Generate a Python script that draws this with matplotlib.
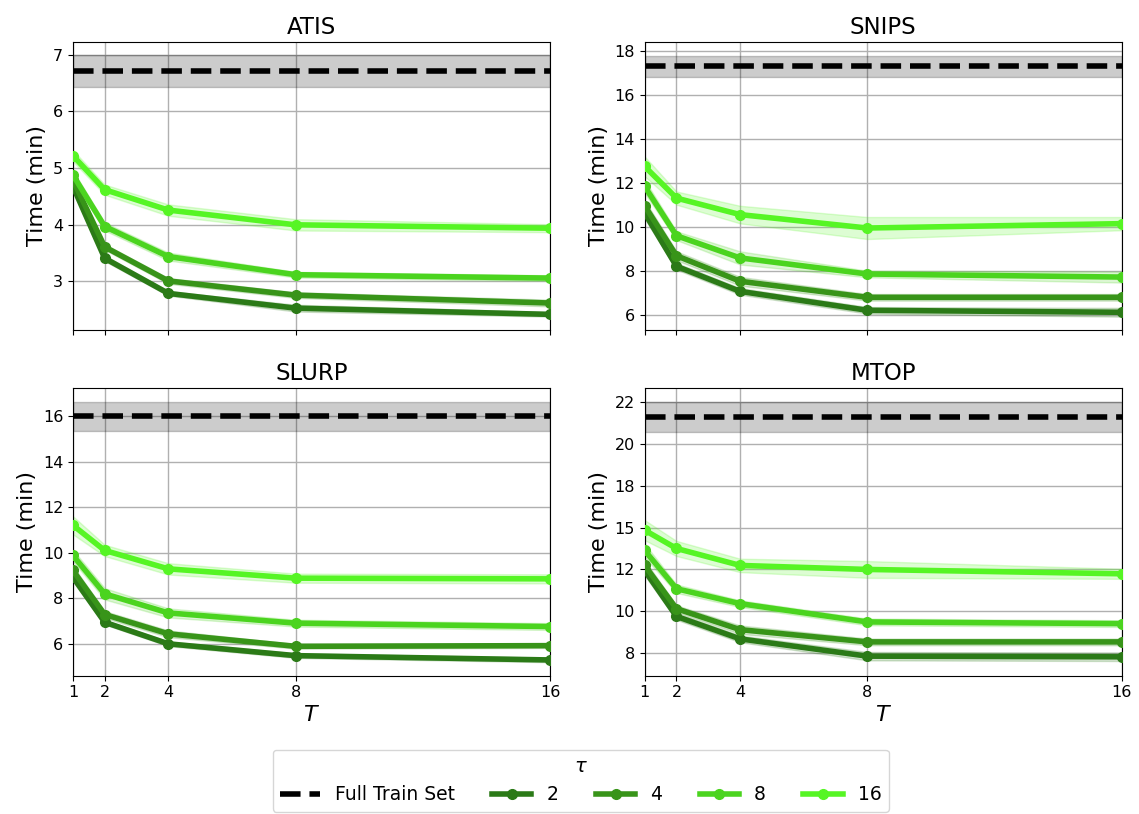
import matplotlib
matplotlib.use("Agg")
import matplotlib.pyplot as plt
import matplotlib.ticker as mticker
import numpy as np

T_values = [1, 2, 4, 8, 16]
taus = [2, 4, 8, 16]
datasets = ["ATIS", "SNIPS", "SLURP", "MTOP"]

# Full train set: mean and std (min)
full_mean = {"ATIS": 6.71, "SNIPS": 17.32, "SLURP": 16.0, "MTOP": 21.6}
full_std = {"ATIS": 0.28, "SNIPS": 0.47, "SLURP": 0.65, "MTOP": 0.9}

# mean time per tau (rows) over T (columns)
atis_mean = [
    [4.68, 3.41, 2.79, 2.53, 2.42],
    [4.79, 3.61, 3.01, 2.76, 2.62],
    [4.88, 3.97, 3.44, 3.12, 3.06],
    [5.22, 4.62, 4.26, 4.00, 3.94],
]
snips_mean = [
    [10.65, 8.23, 7.09, 6.23, 6.14],
    [10.98, 8.71, 7.55, 6.82, 6.82],
    [11.86, 9.62, 8.61, 7.88, 7.74],
    [12.77, 11.33, 10.58, 9.97, 10.17],
]
slurp_mean = [
    [8.93, 6.94, 5.99, 5.47, 5.28],
    [9.22, 7.28, 6.43, 5.88, 5.91],
    [9.88, 8.19, 7.35, 6.90, 6.75],
    [11.21, 10.10, 9.29, 8.88, 8.85],
]
mtop_mean = [
    [12.44, 9.70, 8.36, 7.33, 7.29],
    [12.74, 10.16, 8.91, 8.18, 8.18],
    [13.63, 11.35, 10.46, 9.37, 9.27],
    [14.84, 13.75, 12.74, 12.50, 12.24],
]

atis_std = [
    [0.06, 0.05, 0.04, 0.06, 0.04],
    [0.06, 0.05, 0.05, 0.05, 0.06],
    [0.08, 0.07, 0.07, 0.05, 0.05],
    [0.10, 0.09, 0.10, 0.10, 0.07],
]
snips_std = [
    [0.25, 0.15, 0.15, 0.15, 0.20],
    [0.25, 0.20, 0.20, 0.15, 0.15],
    [0.30, 0.20, 0.30, 0.15, 0.25],
    [0.45, 0.30, 0.40, 0.50, 0.30],
]
slurp_std = [
    [0.20, 0.10, 0.10, 0.10, 0.10],
    [0.20, 0.15, 0.15, 0.10, 0.10],
    [0.25, 0.25, 0.20, 0.15, 0.15],
    [0.40, 0.25, 0.25, 0.20, 0.20],
]
mtop_std = [
    [0.30, 0.20, 0.20, 0.25, 0.25],
    [0.30, 0.20, 0.25, 0.20, 0.20],
    [0.40, 0.25, 0.20, 0.20, 0.20],
    [0.60, 0.45, 0.40, 0.50, 0.30],
]

means = {"ATIS": atis_mean, "SNIPS": snips_mean, "SLURP": slurp_mean, "MTOP": mtop_mean}
stds = {"ATIS": atis_std, "SNIPS": snips_std, "SLURP": slurp_std, "MTOP": mtop_std}
ylims = {"ATIS": (2.15, 7.22), "SNIPS": (5.35, 18.41), "SLURP": (4.59, 17.24), "MTOP": (6.17, 23.3)}
ytick_step = {"ATIS": 1, "SNIPS": 2, "SLURP": 2, "MTOP": 2.5}

tau_colors = ["#2b7a17", "#389419", "#4bd41f", "#56f524"]

fig = plt.figure(figsize=(11.39, 8.14), dpi=100)
positions = [
    (0.064, 0.595, 0.419, 0.353),
    (0.566, 0.595, 0.419, 0.353),
    (0.064, 0.170, 0.419, 0.353),
    (0.566, 0.170, 0.419, 0.353),
]

handles = None
for i, name in enumerate(datasets):
    ax = fig.add_axes(positions[i])
    x = np.array(T_values)
    fm, fs = full_mean[name], full_std[name]
    ax.axhspan(fm - fs, fm + fs, color="black", alpha=0.2, lw=1)
    hfull, = ax.plot([x[0], x[-1]], [fm, fm], ls="--", color="black", lw=4,
                     label="Full Train Set", zorder=4)
    hs = []
    for j, tau in enumerate(taus):
        m = np.array(means[name][j])
        s = np.array(stds[name][j])
        ax.fill_between(x, m - s, m + s, color=tau_colors[j], alpha=0.2, lw=1)
        h, = ax.plot(x, m, "-o", color=tau_colors[j], lw=4, ms=7, label=str(tau), zorder=3)
        hs.append(h)
    handles = [hfull] + hs
    ax.set_xlim(1, 16)
    ax.set_ylim(*ylims[name])
    ax.set_xticks(T_values)
    ax.yaxis.set_major_locator(mticker.MultipleLocator(ytick_step[name]))
    ax.yaxis.set_major_formatter(mticker.FormatStrFormatter("%.0f"))
    ax.grid(True, color="#b0b0b0", lw=1)
    ax.set_axisbelow(True)
    ax.set_title(name, fontsize=16.5)
    ax.set_ylabel("Time (min)", fontsize=16)
    ax.tick_params(labelsize=11.5)
    if i < 2:
        ax.set_xticklabels([])
    else:
        ax.set_xlabel("$T$", fontsize=16, labelpad=3)

fig.legend(handles=handles, labels=["Full Train Set", "2", "4", "8", "16"],
           loc="lower center", bbox_to_anchor=(0.51, -0.009), ncol=5,
           title=r"$\tau$", fontsize=13.5, title_fontsize=14,
           handlelength=2.1, columnspacing=2.0)

fig.savefig("out.png", dpi=100)
